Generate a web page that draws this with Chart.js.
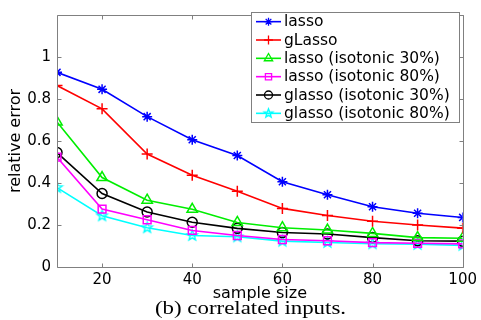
<!DOCTYPE html>
<html><head><meta charset="utf-8">
<script src="https://cdn.jsdelivr.net/npm/chart.js@4/dist/chart.umd.min.js"></script>
<style>html,body{margin:0;padding:0;background:#fff;}#wrap{width:481px;height:320px;}</style>
</head><body><div id="wrap"><canvas id="c" width="481" height="320"></canvas></div>
<script>
const sampleSizes = [10,20,30,40,50,60,70,80,90,100];
const lasso       = [0.927,0.846,0.716,0.606,0.531,0.406,0.344,0.287,0.256,0.236];
const gLasso      = [0.864,0.753,0.538,0.437,0.361,0.279,0.245,0.218,0.200,0.185];
const lassoIso30  = [0.690,0.426,0.318,0.275,0.212,0.187,0.176,0.160,0.140,0.137];
const lassoIso80  = [0.523,0.276,0.225,0.174,0.150,0.131,0.125,0.116,0.113,0.110];
const glassoIso30 = [0.545,0.350,0.262,0.213,0.184,0.164,0.157,0.140,0.125,0.123];
const glassoIso80 = [0.378,0.244,0.187,0.150,0.144,0.123,0.117,0.111,0.108,0.103];
const seriesNames = ['lasso','gLasso','lasso (isotonic 30%)','lasso (isotonic 80%)','glasso (isotonic 30%)','glasso (isotonic 80%)'];
const xTicks = [20,40,60,80,100];
const yTicks = [0,0.2,0.4,0.6,0.8,1,1.2];
const yTickLabels = ['0','0.2','0.4','0.6','0.8','1',''];
const xTitle = 'sample size';
const yTitle = 'relative error';
const caption = '(b) correlated inputs.';

function pentagram(color, r){
  const s = Math.ceil(2*r+4);
  const c = document.createElement('canvas'); c.width = s; c.height = s;
  const g = c.getContext('2d');
  g.beginPath();
  for(let i=0;i<10;i++){
    const rr = i%2===0 ? r : r*0.42;
    const a = -Math.PI/2 + i*Math.PI/5;
    g.lineTo(s/2 + rr*Math.cos(a), s/2 + rr*Math.sin(a));
  }
  g.closePath(); g.strokeStyle = color; g.lineWidth = 1.4; g.stroke();
  return c;
}
const starImg = pentagram('#00ffff', 5.5);
const starImgSmall = pentagram('#00ffff', 4.5);

const styles = [
  {color:'#0000ff', pointStyle:'star', radius:5},
  {color:'#ff0000', pointStyle:'cross', radius:5.5},
  {color:'#00ee00', pointStyle:'triangle', radius:6},
  {color:'#ff00ff', pointStyle:'rect', radius:5.5},
  {color:'#000000', pointStyle:'circle', radius:5},
  {color:'#00ffff', pointStyle:starImg, radius:5.5}
];
const seriesData = [lasso, gLasso, lassoIso30, lassoIso80, glassoIso30, glassoIso80];

const datasets = seriesData.map((arr, k) => ({
  label: seriesNames[k],
  data: sampleSizes.map((x, i) => ({x: x, y: arr[i]})),
  borderColor: styles[k].color,
  backgroundColor: 'rgba(0,0,0,0)',
  borderWidth: 1.6,
  pointStyle: styles[k].pointStyle,
  pointRadius: styles[k].radius,
  pointBorderColor: styles[k].color,
  pointBackgroundColor: 'rgba(0,0,0,0)',
  pointBorderWidth: 1.5,
  tension: 0,
  fill: false
}));

const frameColor = '#808080';

const framePlugin = {
  id: 'frame',
  afterDatasetsDraw(chart){
    const ctx = chart.ctx, a = chart.chartArea;
    const xs = chart.scales.x, ys = chart.scales.y;
    ctx.save();
    ctx.strokeStyle = frameColor; ctx.lineWidth = 1;
    const L = Math.round(a.left)+0.5, R = Math.round(a.right)+0.5, T = Math.round(a.top)+0.5, B = Math.round(a.bottom)+0.5;
    ctx.beginPath();
    ctx.rect(L, T, R-L, B-T);
    const tl = 4;
    xTicks.forEach(v => {
      const px = Math.round(xs.getPixelForValue(v))+0.5;
      ctx.moveTo(px, B); ctx.lineTo(px, B-tl);
      ctx.moveTo(px, T); ctx.lineTo(px, T+tl);
    });
    yTicks.forEach(v => {
      const py = Math.round(ys.getPixelForValue(v))+0.5;
      ctx.moveTo(L, py); ctx.lineTo(L+tl, py);
      ctx.moveTo(R, py); ctx.lineTo(R-tl, py);
    });
    ctx.stroke();

    // legend
    const bx = 251.5, by = 12.5, bw = 208, bh = 110;
    ctx.fillStyle = '#ffffff';
    ctx.fillRect(bx, by, bw, bh);
    ctx.strokeStyle = frameColor;
    ctx.strokeRect(bx, by, bw, bh);
    const rowH = bh/6;
    ctx.textBaseline = 'middle';
    ctx.textAlign = 'left';
    chart.data.datasets.forEach((ds, k) => {
      const cy = by + rowH*(k+0.5);
      ctx.strokeStyle = styles[k].color; ctx.lineWidth = 1.6;
      ctx.beginPath(); ctx.moveTo(256, cy); ctx.lineTo(281, cy); ctx.stroke();
      ctx.lineWidth = 1.3;
      ctx.fillStyle = 'rgba(0,0,0,0)';
      const ps = k === 5 ? starImgSmall : styles[k].pointStyle;
      Chart.helpers.drawPoint(ctx, {pointStyle: ps, radius: styles[k].radius*0.8, borderWidth: 1.3, rotation: 0}, 268.5, cy);
      ctx.fillStyle = '#000';
      ctx.font = '15.5px "DejaVu Sans"';
      ctx.textBaseline = 'middle';
      ctx.textAlign = 'left';
      ctx.fillText(seriesNames[k], 284, cy+0.5);
    });

    // caption
    ctx.font = '19px "Liberation Serif"';
    ctx.textAlign = 'center';
    ctx.textBaseline = 'middle';
    const w = ctx.measureText(caption).width;
    const sx = 191 / w;
    ctx.translate(250.5, 309);
    ctx.scale(sx, 1);
    ctx.fillStyle = '#000';
    ctx.fillText(caption, 0, 0);
    ctx.restore();
  }
};

new Chart(document.getElementById('c'), {
  type: 'line',
  data: {datasets},
  options: {
    responsive: false,
    animation: false,
    devicePixelRatio: 1,
    layout: {padding: {left: 0, right: 18, top: 8, bottom: 20}},
    plugins: {legend: {display: false}, tooltip: {enabled: false}, title: {display: false}},
    elements: {line: {tension: 0}},
    scales: {
      x: {
        type: 'linear', min: 10, max: 100,
        afterBuildTicks: s => { s.ticks = xTicks.map(v => ({value: v})); },
        grid: {display: false, drawTicks: false},
        border: {display: false},
        ticks: {font: {family: 'DejaVu Sans', size: 15}, color: '#000', padding: 4, maxRotation: 0, autoSkip: false},
        title: {display: true, text: xTitle, color: '#000', font: {family: 'DejaVu Sans', size: 16, lineHeight: 0.75}, padding: {top: 0, bottom: 0}},
        afterFit: s => { s.height = 33; }
      },
      y: {
        type: 'linear', min: 0, max: 1.2,
        afterBuildTicks: s => { s.ticks = yTicks.map(v => ({value: v})); },
        grid: {display: false, drawTicks: false},
        border: {display: false},
        ticks: {font: {family: 'DejaVu Sans', size: 15}, color: '#000', padding: 6, autoSkip: false,
                callback: (v, i) => yTickLabels[i]},
        title: {display: true, text: yTitle, color: '#000', font: {family: 'DejaVu Sans', size: 16, lineHeight: 1}, padding: {top: 8, bottom: 0}},
        afterFit: s => { s.width = 57; }
      }
    }
  },
  plugins: [framePlugin]
});
</script></body></html>
